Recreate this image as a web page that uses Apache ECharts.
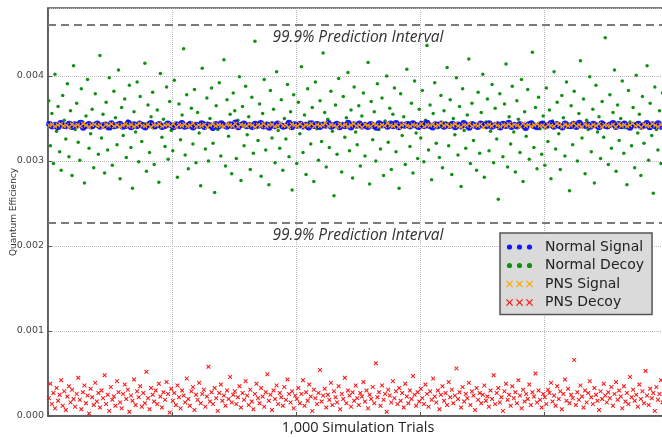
<!DOCTYPE html>
<html>
<head>
<meta charset="utf-8">
<script src="https://cdn.jsdelivr.net/npm/echarts@6/dist/echarts.min.js"></script>
<style>html,body{margin:0;padding:0;background:#fff;}#chart{width:662px;height:438px;}</style>
</head>
<body>
<div id="chart"></div>
<script>
// ---- data ----
const seriesNames = ['Normal Signal', 'Normal Decoy', 'PNS Signal', 'PNS Decoy'];
const yTicks = [0, 0.001, 0.002, 0.003, 0.004];
const predictionBounds = [0.00460, 0.00227];
const trialCount = 1000;

const normalSignal = [
.003431,.003408,.003425,.003399,.003443,.003417,.003412,.003436,.003402,.003428,.003420,.003446,.003395,.003414,.003433,.003410,.003424,.003439,.003405,.003419,.003427,.003398,.003441,.003413,.003422,.003434,.003406,.003416,.003448,.003401,.003429,.003411,.003437,.003418,.003396,.003426,.003444,.003409,.003421,.003432,
.003403,.003415,.003438,.003423,.003400,.003430,.003412,.003445,.003407,.003419,.003435,.003397,.003425,.003414,.003442,.003404,.003427,.003418,.003392,.003433,.003410,.003440,.003421,.003406,.003428,.003415,.003449,.003399,.003424,.003437,
.003411,.003420,.003402,.003434,.003417,.003444,.003408,.003426,.003393,.003430,.003413,.003439,.003422,.003405,.003416,.003447,.003401,.003429,.003419,.003436,.003409,.003424,.003398,.003441,.003414,.003432,.003404,.003427,.003418,.003443,
.003407,.003421,.003435,.003400,.003425,.003412,.003446,.003396,.003430,.003417,.003438,.003410,.003423,.003403,.003433,.003415,.003394,.003440,.003420,.003428,.003406,.003437,.003413,.003445,.003399,.003426,.003418,.003431,.003408,.003442,
.003422,.003402,.003434,.003411,.003448,.003416,.003397,.003429,.003419,.003439,.003405,.003424,.003414,.003436,.003401,.003427,.003409,.003444,.003421,.003395,.003432,.003417,.003403,.003438,.003425,.003412,.003441,.003407,.003420,.003430,
.003398,.003435,.003415,.003446,.003404,.003423,.003410,.003433,.003418,.003391,.003428,.003440,.003413,.003400,.003426,.003437,.003408,.003422,.003443,.003406,.003431,.003416,.003396,.003439,.003419,.003411,.003434,.003402,.003447,.003424,
.003414,.003429,.003405,.003436,.003420,.003399,.003442,.003417,.003409,.003427,.003444,.003403,.003432,.003412,.003438,.003415,.003394,.003425,.003421,.003435,.003407,.003418,.003445,.003401,.003430,.003413,.003440,.003406,.003423,.003397
];

const normalDecoy = [
.00371,.00318,.00356,.00297,.00402,.00335,.00364,.00311,.00289,.00377,.00348,.00326,.00391,.00305,.00359,.00283,.00412,.00337,.00368,.00322,.00301,.00385,.00346,.00274,.00353,.00396,.00315,.00332,.00361,.00292,.00379,.00341,.00308,.00424,.00327,.00355,.00286,.00369,.00313,.00398,
.00338,.00295,.00382,.00351,.00319,.00407,.00279,.00363,.00330,.00373,.00304,.00347,.00389,.00316,.00268,.00358,.00334,.00393,.00299,.00376,.00323,.00344,.00415,.00288,.00366,.00310,.00352,.00381,.00296,.00339,.00360,.00275,.00403,.00328,.00349,.00317,.00387,.00302,.00370,.00336,
.00312,.00395,.00343,.00281,.00367,.00325,.00354,.00432,.00307,.00378,.00291,.00340,.00362,.00320,.00384,.00298,.00357,.00333,.00271,.00409,.00345,.00314,.00374,.00300,.00350,.00386,.00321,.00263,.00365,.00337,.00392,.00306,.00342,.00419,.00294,.00372,.00329,.00355,.00285,.00380,
.00359,.00303,.00348,.00399,.00277,.00364,.00318,.00388,.00331,.00352,.00290,.00375,.00309,.00441,.00339,.00324,.00367,.00282,.00356,.00396,.00313,.00344,.00272,.00383,.00327,.00361,.00298,.00405,.00336,.00315,.00372,.00289,.00350,.00326,.00390,.00305,.00358,.00266,.00378,.00341,
.00297,.00369,.00332,.00411,.00310,.00354,.00284,.00385,.00346,.00320,.00363,.00276,.00393,.00338,.00301,.00371,.00323,.00427,.00357,.00293,.00349,.00316,.00382,.00335,.00259,.00366,.00308,.00397,.00342,.00287,.00376,.00328,.00351,.00404,.00312,.00360,.00280,.00387,.00334,.00319,
.00365,.00294,.00353,.00380,.00306,.00343,.00416,.00273,.00370,.00325,.00358,.00300,.00391,.00337,.00314,.00374,.00283,.00347,.00400,.00322,.00362,.00290,.00355,.00386,.00311,.00340,.00268,.00379,.00330,.00352,.00296,.00408,.00345,.00317,.00368,.00286,.00394,.00333,.00303,.00361,
.00327,.00383,.00299,.00348,.00436,.00313,.00366,.00278,.00356,.00392,.00321,.00339,.00304,.00377,.00292,.00359,.00345,.00410,.00318,.00372,.00284,.00350,.00331,.00398,.00307,.00364,.00270,.00385,.00336,.00315,.00354,.00420,.00297,.00368,.00324,.00343,.00289,.00381,.00309,.00357,
.00402,.00281,.00346,.00373,.00312,.00335,.00390,.00298,.00362,.00326,.00255,.00379,.00341,.00305,.00367,.00414,.00293,.00352,.00320,.00388,.00334,.00287,.00371,.00349,.00310,.00396,.00276,.00358,.00329,.00384,.00302,.00344,.00428,.00316,.00363,.00291,.00375,.00338,.00308,.00353,
.00295,.00386,.00323,.00360,.00279,.00347,.00405,.00314,.00369,.00332,.00290,.00377,.00351,.00306,.00393,.00340,.00265,.00365,.00319,.00382,.00343,.00300,.00356,.00418,.00327,.00373,.00285,.00348,.00337,.00399,.00311,.00361,.00274,.00389,.00334,.00352,.00303,.00370,.00328,.00445,
.00342,.00296,.00378,.00315,.00357,.00407,.00288,.00366,.00324,.00350,.00394,.00309,.00339,.00272,.00383,.00346,.00318,.00363,.00292,.00401,.00333,.00355,.00283,.00376,.00321,.00344,.00412,.00301,.00368,.00330,.00262,.00387,.00337,.00313,.00359,.00297,.00380,.00349,.00306,.00371
];

const pnsSignal = [
.003418,.003429,.003407,.003423,.003435,.003412,.003420,.003401,.003431,.003415,.003426,.003409,.003438,.003419,.003404,.003424,.003432,.003413,.003421,.003397,.003428,.003416,.003436,.003410,.003425,.003403,.003419,.003433,.003414,.003427,.003406,.003422,.003440,.003417,.003411,.003430,.003400,.003424,.003418,.003434,
.003408,.003421,.003428,.003413,.003437,.003402,.003426,.003416,.003432,.003410,.003419,.003442,.003405,.003423,.003414,.003429,.003398,.003420,.003435,.003411,.003425,.003417,.003407,.003431,.003422,.003413,.003439,.003404,.003427,.003418,
.003412,.003433,.003420,.003401,.003426,.003415,.003436,.003409,.003423,.003429,.003406,.003417,.003441,.003414,.003421,.003399,.003430,.003419,.003411,.003434,.003403,.003424,.003416,.003437,.003408,.003427,.003413,.003422,.003443,.003410,
.003425,.003418,.003402,.003432,.003415,.003428,.003407,.003420,.003438,.003412,.003424,.003396,.003431,.003417,.003409,.003435,.003421,.003405,.003426,.003414,.003440,.003419,.003411,.003429,.003400,.003423,.003433,.003416,.003408,.003427,
.003420,.003413,.003436,.003404,.003425,.003418,.003430,.003410,.003422,.003444,.003415,.003428,.003406,.003419,.003434,.003412,.003401,.003426,.003417,.003439,.003409,.003423,.003414,.003431,.003397,.003421,.003427,.003411,.003437,.003418,
.003405,.003424,.003416,.003433,.003412,.003429,.003420,.003403,.003441,.003415,.003426,.003408,.003422,.003435,.003413,.003419,.003399,.003430,.003417,.003410,.003438,.003424,.003406,.003428,.003414,.003421,.003442,.003411,.003425,.003402,
.003432,.003418,.003409,.003427,.003415,.003436,.003404,.003423,.003419,.003412,.003429,.003400,.003434,.003416,.003426,.003407,.003421,.003440,.003413,.003424,.003398,.003431,.003418,.003410,.003437,.003420,.003405,.003428,.003414,.003422
];

const pnsDecoy = [
.00021,.00038,.00014,.00027,.00009,.00033,.00018,.00025,.00042,.00012,.00029,.00007,.00023,.00035,.00016,.00031,.00020,.00011,.00026,.00045,.00019,.00008,.00028,.00036,.00015,.00024,.00003,.00032,.00022,.00013,.00039,.00017,.00027,.00010,.00030,.00021,.00048,.00014,.00025,.00006,
.00034,.00019,.00023,.00012,.00041,.00028,.00016,.00009,.00026,.00037,.00020,.00031,.00005,.00024,.00018,.00043,.00013,.00029,.00022,.00035,.00011,.00027,.00015,.00052,.00021,.00008,.00033,.00025,.00017,.00030,.00014,.00038,.00023,.00010,.00028,.00019,.00040,.00026,.00004,.00032,
.00018,.00027,.00013,.00036,.00022,.00009,.00030,.00024,.00016,.00044,.00020,.00012,.00029,.00034,.00007,.00025,.00019,.00039,.00015,.00026,.00031,.00011,.00023,.00058,.00017,.00028,.00014,.00033,.00021,.00006,.00027,.00037,.00018,.00024,.00012,.00030,.00020,.00046,.00016,.00025,
.00029,.00014,.00022,.00035,.00010,.00027,.00019,.00041,.00024,.00013,.00031,.00017,.00008,.00026,.00038,.00021,.00015,.00033,.00023,.00011,.00028,.00049,.00018,.00025,.00007,.00030,.00020,.00036,.00014,.00027,.00022,.00012,.00034,.00019,.00043,.00026,.00016,.00029,.00009,.00024,
.00020,.00033,.00015,.00026,.00042,.00012,.00028,.00018,.00037,.00023,.00006,.00031,.00021,.00014,.00027,.00054,.00017,.00024,.00032,.00010,.00025,.00019,.00039,.00013,.00029,.00022,.00016,.00035,.00008,.00026,.00020,.00045,.00015,.00030,.00024,.00011,.00028,.00018,.00036,.00021,
.00013,.00027,.00023,.00040,.00017,.00030,.00009,.00025,.00020,.00034,.00015,.00062,.00022,.00028,.00012,.00036,.00019,.00026,.00005,.00031,.00024,.00016,.00041,.00021,.00029,.00014,.00033,.00018,.00027,.00010,.00038,.00023,.00015,.00030,.00020,.00047,.00025,.00012,.00028,.00017,
.00032,.00021,.00014,.00037,.00026,.00011,.00029,.00019,.00044,.00023,.00016,.00030,.00008,.00025,.00035,.00018,.00027,.00013,.00040,.00022,.00031,.00015,.00024,.00056,.00020,.00028,.00010,.00034,.00017,.00026,.00021,.00039,.00013,.00029,.00024,.00007,.00033,.00019,.00027,.00015,
.00025,.00036,.00018,.00023,.00011,.00030,.00020,.00048,.00014,.00027,.00033,.00016,.00022,.00006,.00029,.00038,.00019,.00025,.00012,.00035,.00021,.00028,.00015,.00042,.00024,.00009,.00031,.00017,.00026,.00020,.00037,.00013,.00028,.00023,.00050,.00016,.00030,.00019,.00010,.00026,
.00022,.00014,.00031,.00027,.00039,.00017,.00024,.00012,.00035,.00020,.00029,.00008,.00026,.00043,.00018,.00032,.00015,.00025,.00021,.00066,.00013,.00028,.00019,.00036,.00023,.00010,.00030,.00016,.00027,.00041,.00022,.00014,.00033,.00025,.00018,.00007,.00029,.00020,.00038,.00024,
.00016,.00028,.00021,.00034,.00012,.00026,.00040,.00019,.00030,.00023,.00009,.00035,.00017,.00027,.00014,.00046,.00022,.00031,.00018,.00025,.00011,.00037,.00020,.00029,.00015,.00053,.00024,.00013,.00032,.00021,.00027,.00006,.00034,.00019,.00026,.00042,.00016,.00029,.00022,.00031
];

// ---- helpers ----
function toPoints(arr) {
  const step = trialCount / arr.length;
  return arr.map((v, i) => [i * step + step / 2, v]);
}
const xMark = 'path://M0,1.6L1.6,0L5,3.4L8.4,0L10,1.6L6.6,5L10,8.4L8.4,10L5,6.6L1.6,10L0,8.4L3.4,5Z';
function xPart(o) {
  return 'M' + (o+0) + ',0.8L' + (o+0.8) + ',0L' + (o+3.5) + ',2.7L' + (o+6.2) + ',0L' + (o+7) + ',0.8L' + (o+4.3) + ',3.5L' + (o+7) + ',6.2L' + (o+6.2) + ',7L' + (o+3.5) + ',4.3L' + (o+0.8) + ',7L' + (o+0) + ',6.2L' + (o+2.7) + ',3.5Z';
}
const legendX = 'path://' + xPart(0) + xPart(10) + xPart(20);
function cPart(cx) { return 'M' + (cx - 2.6) + ',3.5a2.6,2.6 0 1,0 5.2,0a2.6,2.6 0 1,0 -5.2,0Z'; }
const legendDots = 'path://M0,0L0,0' + cPart(3.5) + cPart(13.5) + cPart(23.5) + 'M27,7L27,7';

const chart = echarts.init(document.getElementById('chart'));
const labelFont = { fontFamily: 'Open Sans', fontStyle: 'italic', fontSize: 15.5, color: '#333' };

chart.setOption({
  animation: false,
  backgroundColor: '#ffffff',
  grid: { left: 48, right: -6, top: 8, bottom: 22, outerBoundsMode: 'none', containLabel: false,
          show: true, borderColor: '#555', borderWidth: 1.5, backgroundColor: 'transparent' },
  xAxis: {
    type: 'value', min: 0, max: trialCount, interval: 200,
    name: '1,000 Simulation Trials', nameLocation: 'middle', nameGap: 4,
    nameTextStyle: { fontFamily: 'Open Sans', fontSize: 14.5, color: '#222', verticalAlign: 'top' },
    axisLine: { show: true, lineStyle: { color: '#555', width: 1.5 } },
    axisTick: { show: true, inside: true, length: 4, lineStyle: { color: '#555' } },
    axisLabel: { show: false },
    splitLine: { show: true, lineStyle: { color: '#bbbbbb', type: 'dotted', width: 1 } }
  },
  yAxis: {
    type: 'value', min: yTicks[0], max: 0.0048, interval: 0.001,
    name: 'Quantum Efficiency', nameLocation: 'middle', nameGap: 30, nameRotate: 90, nameMoveOverlap: false,
    nameTextStyle: { fontFamily: 'DejaVu Sans', fontSize: 9, color: '#333' },
    axisLine: { show: true, lineStyle: { color: '#555', width: 1.5 } },
    axisTick: { show: true, inside: true, length: 4, lineStyle: { color: '#555' } },
    axisLabel: { showMaxLabel: false, fontFamily: 'DejaVu Sans', fontSize: 9.5, color: '#444', margin: 4,
      formatter: v => yTicks.some(t => Math.abs(t - v) < 1e-9) ? v.toFixed(3) : '' },
    splitLine: { show: true, lineStyle: { color: '#bbbbbb', type: 'dotted', width: 1 } }
  },
  legend: {
    orient: 'vertical', left: 500, top: 233, selectedMode: false,
    backgroundColor: '#dadada', borderColor: '#555', borderWidth: 1.5, borderRadius: 0,
    padding: [7, 8, 5, 6], itemGap: 4.5, itemWidth: 27, itemHeight: 7,
    textStyle: { fontFamily: 'DejaVu Sans', fontSize: 14, color: '#222', lineHeight: 14, padding: [0, 0, 0, 7] },
    data: [
      { name: seriesNames[0], icon: legendDots },
      { name: seriesNames[1], icon: legendDots },
      { name: seriesNames[2], icon: legendX },
      { name: seriesNames[3], icon: legendX }
    ]
  },
  series: [
    {
      name: seriesNames[1], type: 'scatter', symbol: 'circle', symbolSize: 3.5,
      itemStyle: { color: '#109010', opacity: 1 }, data: toPoints(normalDecoy), z: 2,
      markLine: {
        silent: true, symbol: ['none', 'none'], animation: false,
        lineStyle: { color: '#7a7a7a', type: [8, 5], width: 1.8 },
        label: { show: true, position: 'insideMiddleBottom', distance: 5, formatter: '99.9% Prediction Interval', ...labelFont },
        data: predictionBounds.map(v => [{ coord: [0, v] }, { coord: [trialCount, v] }])
      }
    },
    {
      name: seriesNames[0], type: 'scatter', symbol: 'circle', symbolSize: 6.5,
      itemStyle: { color: '#0000ff', opacity: 0.9 }, data: toPoints(normalSignal), z: 3
    },
    {
      name: seriesNames[2], type: 'scatter', symbol: xMark, symbolSize: 4.8,
      itemStyle: { color: '#ffa500', opacity: 1 }, data: toPoints(pnsSignal), z: 4
    },
    {
      name: seriesNames[3], type: 'scatter', symbol: xMark, symbolSize: 4.5,
      itemStyle: { color: '#ff1010', opacity: 1 }, data: toPoints(pnsDecoy), z: 4
    }
  ]
});
</script>
</body>
</html>
